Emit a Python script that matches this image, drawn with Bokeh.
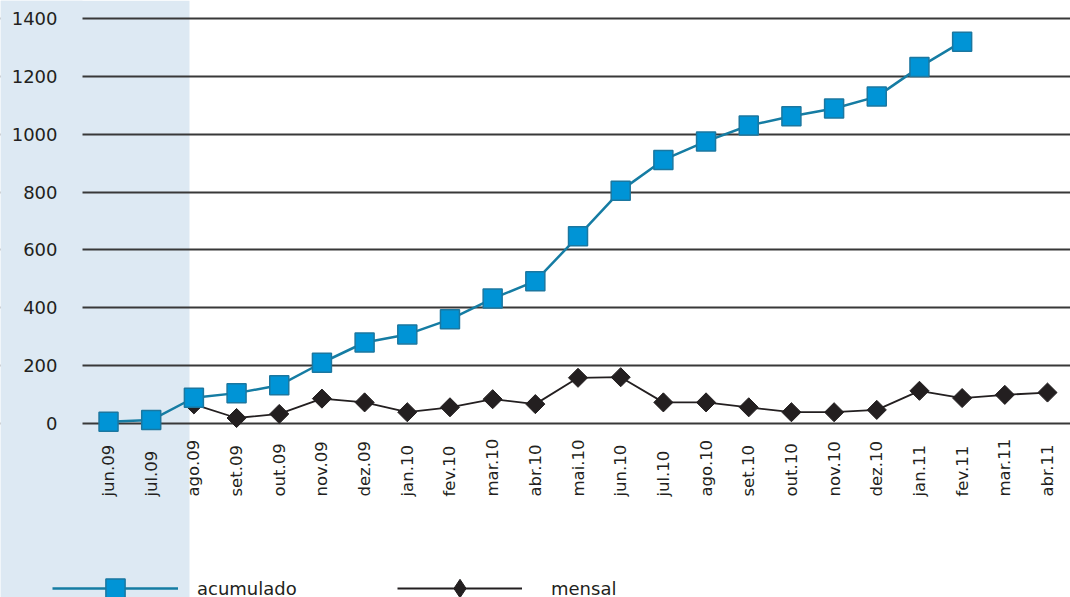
from math import pi
import numpy as np
from bokeh.plotting import figure
from bokeh.models import (Range1d, FixedTicker, BoxAnnotation, Legend, LegendItem,
                          ColumnDataSource)
from bokeh.embed import file_html
from bokeh.resources import INLINE

months = ["jun.09", "jul.09", "ago.09", "set.09", "out.09", "nov.09", "dez.09",
          "jan.10", "fev.10", "mar.10", "abr.10", "mai.10", "jun.10", "jul.10",
          "ago.10", "set.10", "out.10", "nov.10", "dez.10", "jan.11", "fev.11",
          "mar.11", "abr.11"]
acumulado = [6, 12, 89, 105, 132, 210, 280, 308, 360, 432, 492, 647, 805, 911,
             975, 1030, 1062, 1089, 1130, 1232, 1320, None, None]
mensal = [None, None, 66, 19, 33, 86, 73, 39, 56, 84, 67, 158, 160, 73,
          73, 56, 39, 39, 47, 113, 88, 99, 107]
y_ticks = [0, 200, 400, 600, 800, 1000, 1200, 1400]

idx = list(range(len(months)))
src = ColumnDataSource(dict(
    x=idx,
    acc=[np.nan if v is None else v for v in acumulado],
    men=[np.nan if v is None else v for v in mensal],
))

FONT = "DejaVu Sans"
TXT = "#231f20"
SHADE = "#dde9f3"

# layout geometry (pixels of the 1070x597 canvas)
W, H = 1070, 597
PLOT_LEFT_PX = 82          # where the horizontal grid lines begin
SHADE_RIGHT_PX = 189
CAT_PX = 42.68             # width of one month
FIRST_CAT_OFF = 0.61       # first month centre, in months, right of PLOT_LEFT_PX
ZERO_PX, TOP_PX = 423, 18  # pixel rows of 0 and 1400
K = (ZERO_PX - TOP_PX) / 1400.0

x_left_edge = -FIRST_CAT_OFF
x_start = x_left_edge - PLOT_LEFT_PX / CAT_PX
x_end = x_left_edge + (W - PLOT_LEFT_PX) / CAT_PX
y_end = ZERO_PX / K
y_start = (ZERO_PX - H) / K

def ydata(px):
    return (ZERO_PX - px) / K

p = figure(width=W, height=H, output_backend="svg", toolbar_location=None,
           x_range=Range1d(x_start, x_end), y_range=Range1d(y_start, y_end),
           x_axis_location="above",
           min_border_left=0, min_border_right=0, min_border_top=0,
           min_border_bottom=0)
p.outline_line_color = None
p.background_fill_color = "white"
p.border_fill_color = "white"

# light-blue band on the left (behind the grid)
p.add_layout(BoxAnnotation(left=0, right=SHADE_RIGHT_PX, top=0, bottom=H,
                           left_units="canvas", right_units="canvas",
                           top_units="canvas", bottom_units="canvas",
                           fill_color=SHADE, fill_alpha=1.0, line_color=None,
                           level="image"))

# grid
p.xgrid.visible = False
p.ygrid.ticker = FixedTicker(ticks=y_ticks)
p.ygrid.grid_line_color = "#383838"
p.ygrid.grid_line_width = 1.9

# keep the grid lines from running under the y labels
p.add_layout(BoxAnnotation(left=0, right=PLOT_LEFT_PX, top=0, bottom=H,
                           left_units="canvas", right_units="canvas",
                           top_units="canvas", bottom_units="canvas",
                           fill_color=SHADE, fill_alpha=1.0, line_color=None,
                           level="underlay"))

# y axis (drawn inside the canvas at the left end of the grid lines)
p.yaxis.fixed_location = x_left_edge
p.yaxis.ticker = FixedTicker(ticks=y_ticks)
p.yaxis.axis_line_color = None
p.yaxis.major_tick_line_color = None
p.yaxis.minor_tick_line_color = None
p.yaxis.major_label_standoff = 19
p.yaxis.major_label_text_font = FONT
p.yaxis.major_label_text_font_size = "18px"
p.yaxis.major_label_text_color = TXT

# x axis: month labels read upward, starting from a common baseline
p.xaxis.fixed_location = ydata(502)
p.xaxis.ticker = FixedTicker(ticks=idx)
p.xaxis.major_label_overrides = {i: m for i, m in enumerate(months)}
p.xaxis.major_label_orientation = pi / 2
p.xaxis.axis_line_color = None
p.xaxis.major_tick_line_color = None
p.xaxis.minor_tick_line_color = None
p.xaxis.major_label_standoff = 0
p.xaxis.major_label_text_font = FONT
p.xaxis.major_label_text_font_size = "16.5px"
p.xaxis.major_label_text_color = TXT

# mensal
ml = p.line("x", "men", source=src, line_color="#231f20", line_width=1.8)
ms = p.scatter("x", "men", source=src, marker="square", angle=pi / 4, size=13.5,
               fill_color="#231f20", line_color="#231f20", line_width=1)
# legend key for mensal (legend keys are never rotated, so use a diamond);
# it has no drawable point of its own
ms_key = p.scatter(x=[np.nan], y=[np.nan], marker="diamond",
                   fill_color="#231f20", line_color="#231f20", line_width=1)

# acumulado
al = p.line("x", "acc", source=src, line_color="#157ca3", line_width=2.5)
asq = p.scatter("x", "acc", source=src, marker="square", size=19,
                fill_color="#0094d6", line_color="#1b77a0", line_width=1.5)

LEG_CY = 588  # pixel row of the legend's centre line
common = dict(orientation="horizontal", padding=0, margin=0,
              label_text_font=FONT, label_text_font_size="18px",
              label_text_color=TXT, background_fill_alpha=0,
              border_line_color=None)
gh1 = 48
leg1 = Legend(items=[LegendItem(label="acumulado", renderers=[al, asq])],
              location=(52, H - LEG_CY - gh1 // 2), glyph_width=126,
              glyph_height=gh1, label_standoff=19, **common)
gh2 = 46
leg2 = Legend(items=[LegendItem(label="mensal", renderers=[ml, ms_key])],
              location=(397, H - LEG_CY - gh2 // 2), glyph_width=125,
              glyph_height=gh2, label_standoff=29, **common)
p.add_layout(leg1)
p.add_layout(leg2)

open("out.html", "w").write(file_html(p, INLINE))
